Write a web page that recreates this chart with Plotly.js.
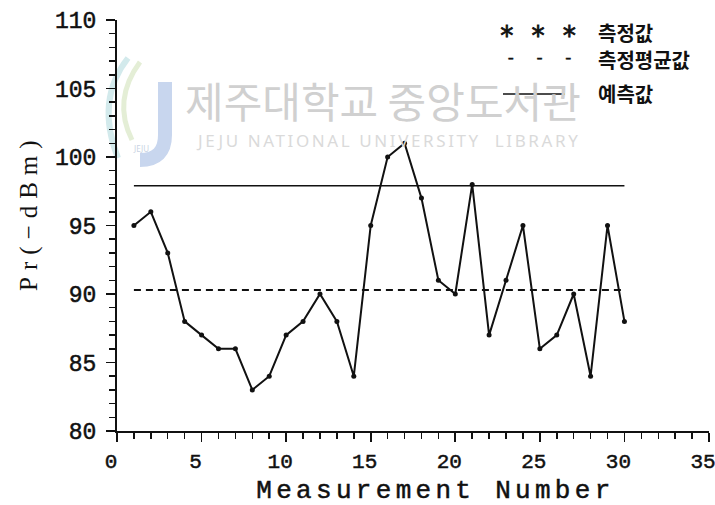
<!DOCTYPE html>
<html>
<head>
<meta charset="utf-8">
<script src="https://cdn.plot.ly/plotly-3.0.1.min.js"></script>
<style>
  html, body { margin: 0; padding: 0; background: #fff; }
  #chart { width: 715px; height: 505px; }
  .xtick text, .ytick text { stroke: #111; stroke-width: 0.5px; }
  g.annotation[data-index="0"] text { letter-spacing: 4.3px; stroke: #111; stroke-width: 0.5px; }
  g.annotation[data-index="1"] text { letter-spacing: 7px; }
  g.annotation[data-index="3"] text { letter-spacing: 2.6px; }
  g.annotation[data-index="5"] text { stroke: #111; stroke-width: 0.8px; }
  g.annotation[data-index="6"] text { stroke: #111; stroke-width: 0.6px; }
</style>
</head>
<body>
<div id="chart"></div>
<script>
// Received power per measurement run
const measurementNumber = [1, 2, 3, 4, 5, 6, 7, 8, 9, 10,
                           11, 12, 13, 14, 15, 16, 17, 18, 19, 20,
                           21, 22, 23, 24, 25, 26, 27, 28, 29, 30];
const measuredPr = [95, 96, 93, 88, 87, 86, 86, 83, 84, 87,
                    88, 90, 88, 84, 95, 100, 101, 97, 91, 90,
                    98, 87, 91, 95, 86, 87, 90, 84, 95, 88];
// Average of the measurements and the predicted level
const averageSpan = [1, 30];
const averagePr = [90.3, 90.3];
const predictedSpan = [1, 30];
const predictedPr = [97.9, 97.9];

const legendLabels = ['측정값', '측정평균값', '예측값'];
const xTickVals = [0, 5, 10, 15, 20, 25, 30, 35];
const yTickVals = [80, 85, 90, 95, 100, 105, 110];
const xTitle = 'Measurement Number';
const yTitle = 'Pr(\u2212dBm)';

const MONO = '"Liberation Mono", "Courier New", monospace';
const SERIF = '"Liberation Serif", "Times New Roman", serif';
const KR = '"Noto Sans CJK KR", "Noto Sans", sans-serif';
const NB = '\u00a0';

const traces = [
  {
    x: measurementNumber, y: measuredPr, type: 'scatter', mode: 'lines+markers',
    line: { color: '#111', width: 2 },
    marker: { color: '#111', size: 5, symbol: 'circle' },
    showlegend: false, hoverinfo: 'skip'
  },
  {
    x: averageSpan, y: averagePr, type: 'scatter', mode: 'lines',
    line: { color: '#111', width: 2, dash: '7px,5px' },
    showlegend: false, hoverinfo: 'skip'
  },
  {
    x: predictedSpan, y: predictedPr, type: 'scatter', mode: 'lines',
    line: { color: '#111', width: 1.6 },
    showlegend: false, hoverinfo: 'skip'
  }
];

// plot-area helpers (paper fractions from pixel offsets inside the figure)
const L = 117, R = 709, T = 20, B = 431;
const px = v => (v - L) / (R - L);
const py = v => (B - v) / (B - T);

const annotations = [
  // axis titles
  { text: xTitle, xref: 'paper', yref: 'paper', x: px(435), y: py(491),
    showarrow: false, xanchor: 'center', yanchor: 'middle',
    font: { family: MONO, size: 26, color: '#111' } },
  { text: yTitle, xref: 'paper', yref: 'paper', x: px(29), y: py(212), textangle: -90,
    showarrow: false, xanchor: 'center', yanchor: 'middle',
    font: { family: SERIF, size: 25, color: '#111' } },
  // library watermark
  { text: '제주대학교 중앙도서관', xref: 'paper', yref: 'paper', x: px(383), y: py(99),
    showarrow: false, xanchor: 'center', yanchor: 'middle',
    font: { family: KR, size: 42, color: '#d0d0d0' } },
  { text: 'JEJU NATIONAL UNIVERSITY  LIBRARY', xref: 'paper', yref: 'paper', x: px(388), y: py(140),
    showarrow: false, xanchor: 'center', yanchor: 'middle',
    font: { family: '"Noto Sans", sans-serif', size: 17, color: '#dadada' } },
  { text: 'JEJU', xref: 'paper', yref: 'paper', x: px(141), y: py(148),
    showarrow: false, xanchor: 'center', yanchor: 'middle',
    font: { family: '"Noto Sans", sans-serif', size: 8, color: '#c9d3e3' } },
  // legend
  { text: '* * *', xref: 'paper', yref: 'paper', x: px(538), y: py(36),
    showarrow: false, xanchor: 'center', yanchor: 'middle',
    font: { family: '"DejaVu Sans Mono", monospace', size: 26, color: '#111' } },
  { text: ['-', '-', '-'].join(NB + NB), xref: 'paper', yref: 'paper', x: px(539), y: py(59),
    showarrow: false, xanchor: 'center', yanchor: 'middle',
    font: { family: MONO, size: 16, color: '#111' } },
  { text: '<b>' + legendLabels[0] + '</b>', xref: 'paper', yref: 'paper', x: px(596), y: py(33),
    showarrow: false, xanchor: 'left', yanchor: 'middle',
    font: { family: KR, size: 20, color: '#111' } },
  { text: '<b>' + legendLabels[1] + '</b>', xref: 'paper', yref: 'paper', x: px(596), y: py(59),
    showarrow: false, xanchor: 'left', yanchor: 'middle',
    font: { family: KR, size: 20, color: '#111' } },
  { text: '<b>' + legendLabels[2] + '</b>', xref: 'paper', yref: 'paper', x: px(596), y: py(93),
    showarrow: false, xanchor: 'left', yanchor: 'middle',
    font: { family: KR, size: 20, color: '#111' } }
];

const shapes = [
  // watermark emblem: swirl and letter J
  { type: 'path', xref: 'paper', yref: 'paper', layer: 'below',
    path: `M ${px(128)} ${py(58)} Q ${px(95)} ${py(100)} ${px(118)} ${py(158)}`,
    line: { color: '#d3eaec', width: 6 } },
  { type: 'path', xref: 'paper', yref: 'paper', layer: 'below',
    path: `M ${px(140)} ${py(62)} Q ${px(112)} ${py(100)} ${px(132)} ${py(140)}`,
    line: { color: '#e4eed6', width: 5 } },
  { type: 'path', xref: 'paper', yref: 'paper', layer: 'below',
    path: `M ${px(165)} ${py(82)} L ${px(165)} ${py(135)} Q ${px(165)} ${py(160)} ${px(140)} ${py(160)}`,
    line: { color: '#c8d6ee', width: 14 } },
  // legend sample for the predicted level
  { type: 'line', xref: 'paper', yref: 'paper',
    x0: px(503), x1: px(565), y0: py(94), y1: py(94),
    line: { color: '#111', width: 1.6 } }
];

const axisCommon = {
  showgrid: false, zeroline: false, showline: true,
  linecolor: '#111', linewidth: 2, mirror: false,
  ticks: 'outside', ticklen: 9, tickwidth: 1.6, tickcolor: '#111',
  ticklabeloverflow: 'allow',
  minor: { dtick: 1, ticks: 'outside', ticklen: 6, tickwidth: 1.5, tickcolor: '#111', showgrid: false }
};

const layout = {
  width: 715, height: 505,
  margin: { l: L, r: 715 - R, t: T, b: 505 - B },
  paper_bgcolor: '#fff', plot_bgcolor: 'rgba(0,0,0,0)',
  showlegend: false,
  xaxis: Object.assign({}, axisCommon, {
    range: [0, 35], tickmode: 'array', tickvals: xTickVals,
    ticklabelstandoff: 1, ticklabelshift: -6,
    tickfont: { family: MONO, size: 21, color: '#111' }
  }),
  yaxis: Object.assign({}, axisCommon, {
    range: [80, 110], tickmode: 'array', tickvals: yTickVals, ticklabelstandoff: 5,
    tickfont: { family: MONO, size: 23, color: '#111' }
  }),
  annotations: annotations,
  shapes: shapes
};

Plotly.newPlot('chart', traces, layout, { displayModeBar: false, staticPlot: true });
</script>
</body>
</html>
